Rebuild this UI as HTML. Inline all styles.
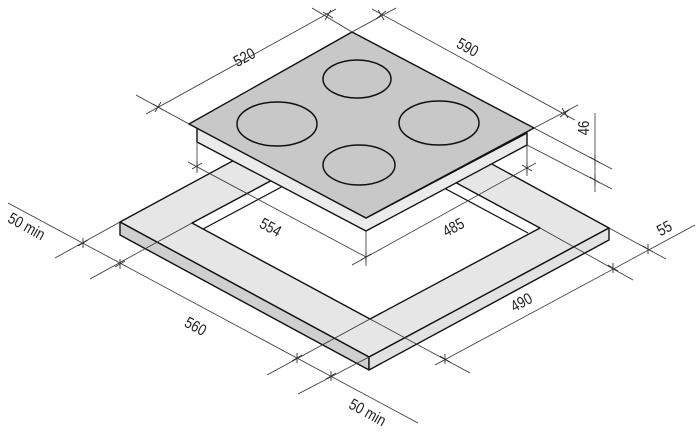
<!DOCTYPE html>
<html><head><meta charset="utf-8"><style>
html,body{margin:0;padding:0;background:#fff;}
svg{display:block}
text{font-family:"Liberation Sans",sans-serif;font-size:16px;fill:#222}
</style></head><body>
<svg width="700" height="438" viewBox="0 0 700 438" xmlns="http://www.w3.org/2000/svg">
<g stroke="#111" stroke-width="1.4" stroke-linejoin="round">
<polygon points="120,222 360,92 609,228 369,357" fill="#e6e6e6"/>
<polygon points="120,222 369,357 369,370 120,235" fill="#cfcfcf"/>
<polygon points="369,357 609,228 609,240 369,370" fill="#e2e2e2"/>
<polygon points="192,223 362,132 540,228 370,319" fill="#fff"/>
</g>
<g stroke="#111" stroke-width="1.2" fill="none">
<polyline points="203,229 373,138"/>
<polyline points="362,144 528,233"/>
</g>
<g stroke="#111" stroke-width="1.4" stroke-linejoin="round">
<polygon points="197,128 366,218 527,133 527,145 366,231 197,142" fill="#ebebeb"/>
<polygon points="189,124 352,32 534,128 366,218" fill="#c8c8c8"/>
</g>
<g stroke="#111" stroke-width="1.5" fill="none">
<ellipse cx="357" cy="79" rx="34" ry="19"/>
<ellipse cx="277" cy="124" rx="40" ry="22"/>
<ellipse cx="439" cy="123" rx="40" ry="22"/>
<ellipse cx="359" cy="165" rx="36" ry="20"/>
</g>
<g stroke="#333" stroke-width="0.8" fill="none">
<line x1="189" y1="124" x2="136" y2="95"/>
<line x1="352" y1="32" x2="312" y2="8"/>
<line x1="146" y1="114" x2="336" y2="9"/>
<line x1="352" y1="32" x2="396" y2="8"/>
<line x1="534" y1="128" x2="578" y2="105"/>
<line x1="372" y1="9" x2="575" y2="120"/>
<line x1="595" y1="113" x2="595" y2="192"/>
<line x1="534" y1="128" x2="612" y2="169"/>
<line x1="527" y1="145" x2="612" y2="189"/>
<line x1="197" y1="142" x2="197" y2="173"/>
<line x1="366" y1="231" x2="366" y2="266"/>
<line x1="527" y1="145" x2="527" y2="176"/>
<line x1="188" y1="162" x2="366" y2="257"/>
<line x1="352" y1="265" x2="536" y2="163"/>
<line x1="8" y1="203" x2="418" y2="423"/>
<line x1="55" y1="258" x2="120" y2="222"/>
<line x1="90" y1="279" x2="192" y2="223"/>
<line x1="267" y1="375" x2="370" y2="319"/>
<line x1="298" y1="394" x2="369" y2="357"/>
<line x1="435" y1="365" x2="695" y2="225"/>
<line x1="370" y1="319" x2="470" y2="373"/>
<line x1="540" y1="228" x2="633" y2="280"/>
<line x1="609" y1="228" x2="666" y2="259"/>
</g>
<g stroke="#333" stroke-width="0.9">
<line x1="153" y1="104" x2="163" y2="110"/><line x1="155" y1="112" x2="161" y2="102"/>
<line x1="323" y1="12" x2="333" y2="18"/><line x1="325" y1="20" x2="331" y2="10"/>
<line x1="376" y1="19" x2="386" y2="11"/><line x1="378" y1="10" x2="384" y2="20"/>
<line x1="560" y1="117" x2="570" y2="109"/><line x1="562" y1="108" x2="568" y2="118"/>
<line x1="590" y1="157" x2="600" y2="163"/><line x1="595" y1="155" x2="595" y2="165"/>
<line x1="590" y1="177" x2="600" y2="183"/><line x1="595" y1="175" x2="595" y2="185"/>
<line x1="192" y1="169" x2="202" y2="163"/><line x1="197" y1="161" x2="197" y2="171"/>
<line x1="361" y1="260" x2="371" y2="254"/><line x1="366" y1="252" x2="366" y2="262"/>
<line x1="522" y1="165" x2="532" y2="171"/><line x1="527" y1="163" x2="527" y2="173"/>
<line x1="78" y1="246" x2="88" y2="240"/><line x1="83" y1="238" x2="83" y2="248"/>
<line x1="115" y1="267" x2="125" y2="261"/><line x1="120" y1="259" x2="120" y2="269"/>
<line x1="292" y1="361" x2="302" y2="355"/><line x1="297" y1="353" x2="297" y2="363"/>
<line x1="326" y1="379" x2="336" y2="373"/><line x1="331" y1="371" x2="331" y2="381"/>
<line x1="440" y1="356" x2="450" y2="362"/><line x1="445" y1="354" x2="445" y2="364"/>
<line x1="608" y1="265" x2="618" y2="271"/><line x1="613" y1="263" x2="613" y2="273"/>
<line x1="643" y1="246" x2="653" y2="252"/><line x1="648" y1="244" x2="648" y2="254"/>
</g>
<text transform="translate(247,62) rotate(-29) scale(0.82,1)" text-anchor="middle">520</text>
<text transform="translate(465,52) rotate(29) scale(0.82,1)" text-anchor="middle">590</text>
<text transform="translate(589,128) rotate(-90) scale(0.82,1)" text-anchor="middle">46</text>
<text transform="translate(268,232) rotate(29) scale(0.82,1)" text-anchor="middle">554</text>
<text transform="translate(456,232) rotate(-29) scale(0.82,1)" text-anchor="middle">485</text>
<text transform="translate(24,231) rotate(29) scale(0.82,1)" text-anchor="middle">50 min</text>
<text transform="translate(193,331) rotate(29) scale(0.82,1)" text-anchor="middle">560</text>
<text transform="translate(365,417) rotate(29) scale(0.82,1)" text-anchor="middle">50 min</text>
<text transform="translate(524,307) rotate(-29) scale(0.82,1)" text-anchor="middle">490</text>
<text transform="translate(667,233) rotate(-29) scale(0.82,1)" text-anchor="middle">55</text>
</svg>
</body></html>
